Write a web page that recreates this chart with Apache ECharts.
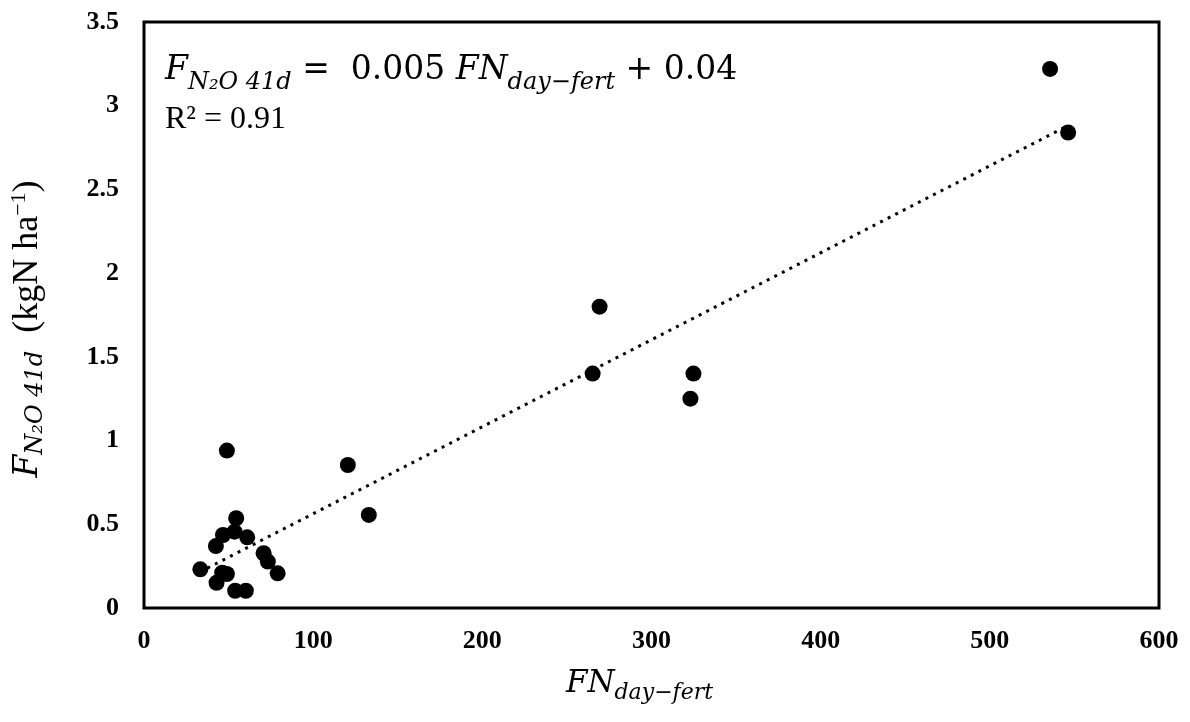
<!DOCTYPE html>
<html>
<head>
<meta charset="utf-8">
<script src="https://cdn.jsdelivr.net/npm/echarts@6/dist/echarts.min.js"></script>
<style>
    html, body { margin: 0; padding: 0; background: #fff; }
    #scatter_echart { width: 1190px; height: 722px; }
</style>
</head>
<body>
<div id="scatter_echart"></div>
<script>
// measured points, FN_day-fert vs F_N2O 41d
var fnDay = [535.6, 546.3, 269.3, 265.2, 324.8, 323.0, 120.5, 132.9, 49.0,
             54.5, 46.7, 53.5, 61.0, 42.5, 70.7, 73.2, 79.0, 33.3, 46.2, 49.0, 42.9, 53.9, 60.2];
var fN2O = [3.22, 2.84, 1.80, 1.40, 1.40, 1.25, 0.854, 0.556, 0.94,
            0.536, 0.436, 0.456, 0.422, 0.370, 0.327, 0.277, 0.207, 0.231, 0.211, 0.203, 0.151, 0.103, 0.103];
// trendline end points
var trendX = [33, 546];
var trendY = [0.215, 2.88];
var xTicks = [0, 100, 200, 300, 400, 500, 600];
var yTicks = [0, 0.5, 1, 1.5, 2, 2.5, 3, 3.5];

var serif = '"Liberation Serif", serif';
var mathFont = '"DejaVu Serif", serif';

function DrowScatter() {
    var myChart = echarts.init(document.getElementById('scatter_echart'));
    var points = [];
    for (var i = 0; i < fnDay.length; i++) {
        points.push([fnDay[i], fN2O[i]]);
    }
    var trend = [];
    for (var j = 0; j < trendX.length; j++) {
        trend.push([trendX[j], trendY[j]]);
    }
    var Option = {
        backgroundColor: '#fff',
        animation: false,
        title: {
            left: 160,
            top: 40,
            text: '{it|F}{sub|N₂O 41d}{m| =  0.005 }{it|FN}{sub|day−fert}{m| + 0.04}\n{n|R² = 0.91}',
            textStyle: {
                fontWeight: 'normal',
                rich: {
                    it: { fontFamily: mathFont, fontStyle: 'italic', fontWeight: 'normal', fontSize: 33, color: '#000', lineHeight: 50 },
                    m: { fontFamily: mathFont, fontWeight: 'normal', fontSize: 33, color: '#000', lineHeight: 50 },
                    n: { fontFamily: serif, fontWeight: 'normal', fontSize: 32, color: '#000', lineHeight: 50 },
                    sub: { fontFamily: mathFont, fontStyle: 'italic', fontWeight: 'normal', fontSize: 24, color: '#000', lineHeight: 17, verticalAlign: 'bottom' }
                }
            }
        },
        grid: {
            left: 142,
            right: 31,
            top: 22,
            bottom: 114,
            show: true,
            borderColor: '#000',
            borderWidth: 3,
            backgroundColor: '#fff'
        },
        xAxis: {
            type: 'value',
            min: xTicks[0],
            max: xTicks[xTicks.length - 1],
            interval: 100,
            name: '{it|FN}{sub|day−fert}',
            nameLocation: 'middle',
            nameGap: 56,
            nameTextStyle: {
                padding: [0, 24, 0, 0],
                rich: {
                    it: { fontFamily: mathFont, fontStyle: 'italic', fontSize: 31, color: '#000', lineHeight: 40 },
                    sub: { fontFamily: mathFont, fontStyle: 'italic', fontSize: 22, color: '#000', lineHeight: 14, verticalAlign: 'bottom' }
                }
            },
            axisLine: { show: false },
            axisTick: { show: false },
            splitLine: { show: false },
            axisLabel: {
                margin: 20,
                fontFamily: serif,
                fontWeight: 'bold',
                fontSize: 26,
                color: '#000'
            }
        },
        yAxis: {
            type: 'value',
            min: yTicks[0],
            max: yTicks[yTicks.length - 1],
            interval: 0.5,
            name: '{it|F}{sub|N₂O 41d}{n|  (kgN ha}{sup|−1}{n|)}',
            nameLocation: 'middle',
            nameRotate: 90,
            nameGap: 96,
            nameTextStyle: {
                padding: [0, 28, 0, 0],
                rich: {
                    it: { fontFamily: mathFont, fontStyle: 'italic', fontSize: 33, color: '#000', lineHeight: 40 },
                    n: { fontFamily: serif, fontSize: 36, color: '#000', lineHeight: 40 },
                    sub: { fontFamily: mathFont, fontStyle: 'italic', fontSize: 24, color: '#000', lineHeight: 14, verticalAlign: 'bottom' },
                    sup: { fontFamily: serif, fontSize: 22, color: '#000', lineHeight: 16, verticalAlign: 'top' }
                }
            },
            axisLine: { show: false },
            axisTick: { show: false },
            splitLine: { show: false },
            axisLabel: {
                margin: 25,
                fontFamily: serif,
                fontWeight: 'bold',
                fontSize: 26,
                color: '#000'
            }
        },
        series: [{
            name: 'trend',
            type: 'line',
            data: trend,
            symbol: 'none',
            silent: true,
            lineStyle: { color: '#000', width: 3, type: [3, 5.5] },
            z: 1
        }, {
            name: 'data',
            type: 'scatter',
            data: points,
            symbolSize: 16,
            itemStyle: { color: '#000', opacity: 1 },
            z: 2
        }]
    };
    myChart.setOption(Option);
}
DrowScatter();
</script>
</body>
</html>
